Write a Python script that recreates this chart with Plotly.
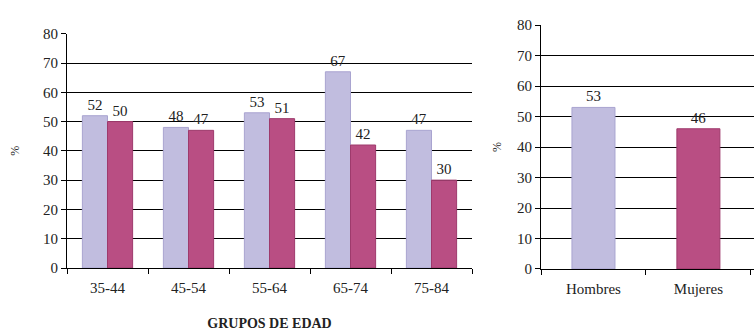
import plotly.graph_objects as go

age_groups = ["35-44", "45-54", "55-64", "65-74", "75-84"]
men_by_age = [52, 48, 53, 67, 47]
women_by_age = [50, 47, 51, 42, 30]
sexes = ["Hombres", "Mujeres"]
sex_values = [53, 46]
y_ticks = [0, 10, 20, 30, 40, 50, 60, 70, 80]

LAV = "#C1BDDF"
LAV_LINE = "#A9A4D0"
MAG = "#B94E83"
MAG_LINE = "#9E3A6C"
FONT = "Liberation Serif"

fig = go.Figure()
fig.add_trace(go.Bar(x=age_groups, y=men_by_age, text=men_by_age, textposition="outside",
                     marker=dict(color=LAV, line=dict(color=LAV_LINE, width=1)),
                     cliponaxis=False, xaxis="x", yaxis="y", showlegend=False))
fig.add_trace(go.Bar(x=age_groups, y=women_by_age, text=women_by_age, textposition="outside",
                     marker=dict(color=MAG, line=dict(color=MAG_LINE, width=1)),
                     cliponaxis=False, xaxis="x", yaxis="y", showlegend=False))
fig.add_trace(go.Bar(x=sexes, y=sex_values, text=sex_values, textposition="outside",
                     marker=dict(color=[LAV, MAG], line=dict(color=[LAV_LINE, MAG_LINE], width=1)),
                     width=0.41, cliponaxis=False, xaxis="x2", yaxis="y2", showlegend=False))

W, H = 754, 336
def px_x(p): return p / W
def px_y(p): return (H - p) / H

TICKFONT = dict(family=FONT, size=15, color="#222")
axis_common = dict(showline=True, linecolor="black", linewidth=1, ticks="outside",
                   ticklen=5, tickcolor="black", tickfont=TICKFONT)

fig.update_layout(
    width=W, height=H, margin=dict(l=0, r=0, t=0, b=0),
    paper_bgcolor="white", plot_bgcolor="white",
    barmode="group", bargap=0.38, bargroupgap=0,
    font=dict(family=FONT, size=15, color="#222"),
    uniformtext=dict(minsize=15, mode="show"),
    xaxis=dict(domain=[px_x(67), px_x(472)], anchor="y", tickson="boundaries",
               showgrid=False, ticklabelstandoff=6, **axis_common,
               title=dict(text="<b>GRUPOS DE EDAD</b>", font=dict(family=FONT, size=14, color="#222"), standoff=23)),
    yaxis=dict(domain=[px_y(273), px_y(27)], anchor="x", range=[0, 80], tickvals=y_ticks,
               showgrid=True, gridcolor="black", gridwidth=1, zeroline=False, **axis_common,
               title=dict(text="%", font=dict(family=FONT, size=12, color="#222"), standoff=20)),
    xaxis2=dict(domain=[px_x(541), 1.0], anchor="y2", tickson="boundaries", range=[-0.5, 1.53],
                showgrid=False, ticklabelstandoff=6, **axis_common),
    yaxis2=dict(domain=[px_y(274), px_y(18)], anchor="x2", range=[0, 80], tickvals=y_ticks,
                showgrid=True, gridcolor="black", gridwidth=1, zeroline=False, **axis_common,
                title=dict(text="%", font=dict(family=FONT, size=12, color="#222"), standoff=12)),
)

fig.write_html("out.html")
